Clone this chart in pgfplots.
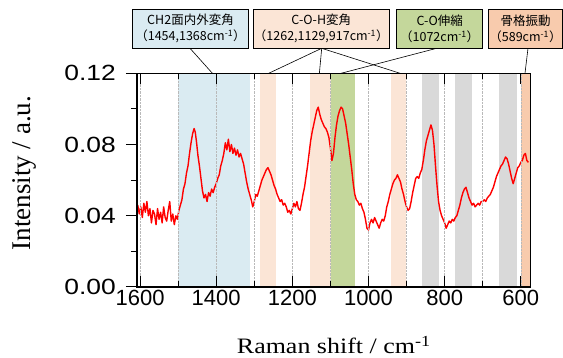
\documentclass[border=0pt]{standalone}
\usepackage{pgfplots}
\pgfplotsset{compat=1.18}
\usepackage{fontspec}
\setmainfont{Liberation Serif}
\setsansfont{Liberation Sans}
\newfontfamily\cjk{Noto Sans CJK JP}
\definecolor{bandblue}{HTML}{DAEBF2}
\definecolor{bandpeach}{HTML}{FBE5D6}
\definecolor{bandgreen}{HTML}{C4D79B}
\definecolor{bandgray}{HTML}{D9D9D9}
\definecolor{bandorange}{HTML}{F8CBAD}
\begin{document}
\begin{tikzpicture}
\path[use as bounding box] (0,0) rectangle (563pt,358pt);
\begin{axis}[
  at={(137pt,71pt)}, anchor=south west,
  scale only axis, width=393.7pt, height=213.7pt,
  x dir=reverse, xmin=574, xmax=1608, ymin=0, ymax=0.12,
  axis on top,
  axis line style={line width=1.2pt},
  xtick={600,800,1000,1200,1400,1600},
  minor xtick={700,900,1100,1300,1500},
  ytick={0,0.04,0.08,0.12},
  minor ytick={0.02,0.06,0.10},
  xtick pos=both, xticklabel pos=lower,
  ytick pos=left,
  xtick align=inside, ytick align=outside,
  major tick length=11pt, minor tick length=6pt,
  tick style={line width=1pt, black},
  xmajorgrids, xminorgrids,
  grid style={densely dotted, gray!55, line width=0.5pt},
  /pgf/number format/assume math mode=true,
  ticklabel style={font=\sffamily\fontsize{22}{22}\selectfont},
  xticklabel style={/pgf/number format/1000 sep={}},
  yticklabel style={/pgf/number format/.cd, fixed, fixed zerofill, precision=2, /tikz/.cd, xscale=1.2, xshift=-5pt},
  xlabel={Raman shift / cm\textsuperscript{-1}},
  xlabel style={font=\fontsize{22}{22}\selectfont, xscale=1.18, at={(axis description cs:0.5,-0.3135)}, anchor=base},
  ylabel={Intensity / a.u.},
  ylabel style={font=\fontsize{27}{27}\selectfont, at={(axis description cs:-0.27,0.533)}, anchor=base, rotate=0},
]
\addplot[fill=bandblue, draw=none] coordinates {(1500,0) (1500,0.12) (1312,0.12) (1312,0)} -- cycle;
\addplot[fill=bandpeach, draw=none] coordinates {(1284,0) (1284,0.12) (1242,0.12) (1242,0)} -- cycle;
\addplot[fill=bandpeach, draw=none] coordinates {(1154,0) (1154,0.12) (1099,0.12) (1099,0)} -- cycle;
\addplot[fill=bandgreen, draw=none] coordinates {(1099,0) (1099,0.12) (1036,0.12) (1036,0)} -- cycle;
\addplot[fill=bandpeach, draw=none] coordinates {(942,0) (942,0.12) (902,0.12) (902,0)} -- cycle;
\addplot[fill=bandgray, draw=none] coordinates {(859,0) (859,0.12) (815,0.12) (815,0)} -- cycle;
\addplot[fill=bandgray, draw=none] coordinates {(772,0) (772,0.12) (729,0.12) (729,0)} -- cycle;
\addplot[fill=bandgray, draw=none] coordinates {(657,0) (657,0.12) (611,0.12) (611,0)} -- cycle;
\addplot[fill=bandorange, draw=none] coordinates {(600,0) (600,0.12) (574,0.12) (574,0)} -- cycle;
\addplot[red, line width=1.4pt, line join=round] coordinates {
(1606,0.046)(1602,0.041)(1598,0.045)(1594,0.039)(1590,0.047)(1586,0.042)(1582,0.048)(1578,0.040)(1574,0.044)(1570,0.036)(1566,0.043)(1562,0.041)(1558,0.035)(1554,0.044)(1550,0.038)(1546,0.042)(1542,0.036)(1538,0.045)(1534,0.039)(1530,0.037)(1526,0.043)(1522,0.048)(1518,0.037)(1514,0.041)(1510,0.035)(1506,0.040)(1502,0.038)
(1498,0.043)(1494,0.046)(1490,0.049)(1486,0.055)(1482,0.058)(1478,0.064)(1474,0.068)(1470,0.075)(1466,0.081)(1462,0.086)(1458,0.089)(1455,0.087)(1452,0.082)(1448,0.074)(1444,0.068)(1440,0.061)(1436,0.054)(1432,0.050)(1428,0.052)(1424,0.048)(1420,0.053)(1416,0.051)(1412,0.055)(1408,0.053)(1404,0.056)(1400,0.058)(1396,0.061)(1392,0.063)(1388,0.068)(1384,0.071)(1380,0.075)(1376,0.081)(1372,0.077)(1368,0.083)(1364,0.076)(1360,0.080)(1356,0.075)(1352,0.078)(1348,0.074)(1344,0.077)(1340,0.073)(1336,0.075)(1332,0.072)(1328,0.069)(1324,0.064)(1320,0.059)(1316,0.055)(1312,0.052)(1308,0.049)(1304,0.045)(1300,0.048)(1296,0.052)
(1292,0.051)(1288,0.054)(1284,0.057)(1280,0.060)(1276,0.062)(1272,0.064)(1268,0.066)(1264,0.067)(1260,0.065)(1256,0.063)(1252,0.060)(1248,0.057)(1244,0.055)(1240,0.052)(1236,0.050)(1232,0.048)(1228,0.049)(1224,0.046)(1220,0.047)(1216,0.045)(1212,0.042)(1208,0.043)(1204,0.041)(1200,0.044)(1196,0.047)(1192,0.045)(1188,0.048)(1184,0.044)(1180,0.043)(1176,0.047)(1172,0.052)(1168,0.056)(1164,0.062)(1160,0.068)(1156,0.075)(1152,0.082)(1148,0.087)(1144,0.091)(1140,0.095)(1136,0.099)(1132,0.101)(1128,0.097)(1124,0.094)(1120,0.092)(1116,0.090)(1112,0.089)(1108,0.087)(1104,0.084)(1100,0.078)(1096,0.071)(1092,0.075)(1088,0.084)(1084,0.091)(1080,0.096)(1076,0.099)(1072,0.101)(1068,0.100)(1064,0.096)(1060,0.092)(1056,0.086)(1052,0.080)(1048,0.073)(1044,0.066)(1040,0.058)(1036,0.052)(1032,0.049)(1028,0.048)(1024,0.046)(1020,0.047)(1016,0.044)(1012,0.042)(1008,0.038)(1004,0.033)(1000,0.032)
(996,0.036)(992,0.038)(988,0.036)(984,0.039)(980,0.037)(976,0.035)(972,0.033)(968,0.036)(964,0.038)(960,0.037)(956,0.040)(952,0.045)(948,0.048)(944,0.052)(940,0.055)(936,0.058)(932,0.060)(928,0.061)(924,0.063)(920,0.061)(916,0.059)(912,0.055)(908,0.052)(904,0.048)(900,0.045)(896,0.043)(892,0.044)(888,0.048)(884,0.053)(880,0.057)(876,0.061)(872,0.062)(868,0.061)(864,0.064)(860,0.066)(856,0.071)(852,0.077)(848,0.082)(844,0.085)(840,0.088)(836,0.091)(832,0.088)(828,0.080)(824,0.068)(820,0.057)(816,0.048)(812,0.043)(808,0.040)(804,0.038)(800,0.036)
(796,0.033)(792,0.035)(788,0.037)(784,0.036)(780,0.038)(776,0.037)(772,0.039)(768,0.040)(764,0.043)(760,0.046)(756,0.050)(752,0.053)(748,0.055)(744,0.056)(740,0.053)(736,0.050)(732,0.048)(728,0.046)(724,0.047)(720,0.045)(716,0.046)(712,0.047)(708,0.046)(704,0.048)(700,0.048)(696,0.049)(692,0.048)(688,0.050)(684,0.051)(680,0.052)(676,0.054)(672,0.056)(668,0.059)(664,0.062)(660,0.064)(656,0.066)(652,0.068)(648,0.069)(644,0.071)(640,0.073)(636,0.072)(632,0.069)(628,0.065)(624,0.061)(620,0.058)(616,0.061)(612,0.064)(608,0.067)(604,0.068)(600,0.070)(596,0.071)(592,0.074)(588,0.075)(584,0.071)(580,0.070)
};
\coordinate (t1410) at (axis cs:1410,0.12);
\coordinate (t1262) at (axis cs:1262,0.12);
\coordinate (t1129) at (axis cs:1129,0.12);
\coordinate (t917) at (axis cs:917,0.12);
\coordinate (t1072) at (axis cs:1072,0.12);
\coordinate (t589) at (axis cs:589,0.12);
\end{axis}
\begin{scope}[line width=0.6pt]
\draw (190pt,309.7pt) -- (t1410);
\draw (321.7pt,309.7pt) -- (t1262);
\draw (321.7pt,309.7pt) -- (t1129);
\draw (321.7pt,309.7pt) -- (t917);
\draw (436.7pt,309.7pt) -- (t1072);
\draw (528pt,309.7pt) -- (t589);
\draw[fill=bandblue] (132.7pt,309.7pt) rectangle (248.3pt,348.7pt);
\draw[fill=bandpeach] (253.3pt,309.7pt) rectangle (389.3pt,348.7pt);
\draw[fill=bandgreen] (396.7pt,309.7pt) rectangle (482.7pt,348.7pt);
\draw[fill=bandorange] (488.3pt,309.7pt) rectangle (562.6pt,348.7pt);
\end{scope}
\begin{scope}[every node/.style={align=center, font=\cjk\fontsize{12.5}{16}\selectfont, inner sep=0pt}]
\node at (190.5pt,329.2pt) {CH2面内外変角\\（1454,1368cm\textsuperscript{-1}）};
\node at (321.3pt,329.2pt) {C-O-H変角\\（1262,1129,917cm\textsuperscript{-1}）};
\node at (439.7pt,329.2pt) {C-O伸縮\\（1072cm\textsuperscript{-1}）};
\node at (525.5pt,329.2pt) {骨格振動\\（589cm\textsuperscript{-1}）};
\end{scope}
\end{tikzpicture}
\end{document}
